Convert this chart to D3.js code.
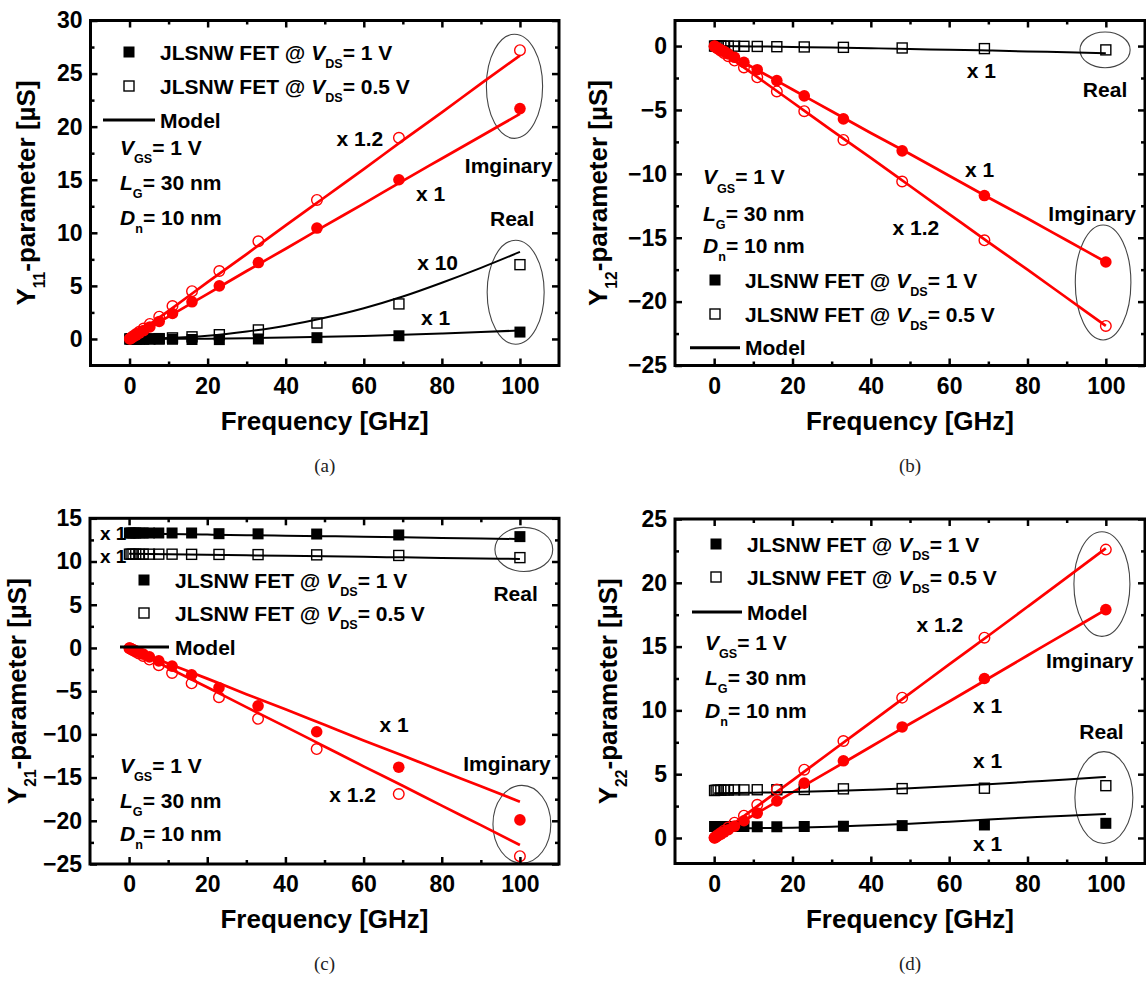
<!DOCTYPE html>
<html>
<head>
<meta charset="utf-8">
<script src="https://cdn.jsdelivr.net/npm/d3@7"></script>
<style>
  body { margin: 0; background: #fff; }
  svg text { font-family: "Liberation Sans", Arial, Helvetica, sans-serif; font-weight: bold; fill: #000; white-space: pre; }
  svg text.cap { font-family: "Liberation Serif", "DejaVu Serif", serif; font-weight: normal; fill: #222; }
</style>
</head>
<body>
<svg id="fig" width="1146" height="983"></svg>
<script>
// measured frequency points (GHz)
const freq = [0.1, 0.5, 1, 1.7, 2.5, 3.6, 5.2, 7.6, 11, 16, 23, 33, 48, 69, 100];
// frequencies the model curves were read at
const modelFreq = [0, 10, 20, 30, 40, 50, 60, 70, 80, 90, 100];
const xMajor = [0, 20, 40, 60, 80, 100];
const xMinor = [10, 30, 50, 70, 90];

// (a) Y11
const y11ImV1 = [0.02, 0.11, 0.22, 0.37, 0.55, 0.79, 1.13, 1.65, 2.4, 3.5, 5.0, 7.2, 10.45, 15.0, 21.7];
const y11ImV05 = [0.03, 0.14, 0.27, 0.46, 0.68, 0.98, 1.42, 2.1, 3.1, 4.5, 6.4, 9.2, 13.1, 18.95, 27.2];
const y11ReV1 = [0, 0, 0, 0, 0, 0, 0, -0.02, -0.03, -0.05, -0.06, 0.0, 0.12, 0.3, 0.65];
const y11ReV05 = [0, 0, 0, 0, 0, 0, 0.01, 0.03, 0.1, 0.2, 0.4, 0.85, 1.5, 3.3, 7.0];
const y11ImV1Model = [0, 2.1, 4.25, 6.4, 8.5, 10.65, 12.75, 14.9, 17.0, 19.1, 21.2];
const y11ImV05Model = [0, 2.65, 5.35, 8.0, 10.7, 13.35, 16.0, 18.7, 21.35, 24.05, 26.7];
const y11ReV1Model = [0, 0.01, 0.03, 0.07, 0.13, 0.2, 0.29, 0.4, 0.52, 0.65, 0.8];
const y11ReV05Model = [0, 0.08, 0.3, 0.7, 1.25, 2.0, 2.9, 4.0, 5.3, 6.7, 8.2];

// (b) Y12
const y12ImV1 = [-0.02, -0.09, -0.17, -0.29, -0.42, -0.61, -0.88, -1.28, -1.85, -2.7, -3.9, -5.7, -8.2, -11.7, -16.9];
const y12ImV05 = [-0.02, -0.11, -0.22, -0.37, -0.55, -0.79, -1.14, -1.67, -2.45, -3.55, -5.1, -7.35, -10.6, -15.2, -21.9];
const y12ReV05 = [0, 0, 0, 0, 0, -0.01, -0.01, -0.02, -0.03, -0.05, -0.07, -0.1, -0.15, -0.2, -0.3];
const y12ImV1Model = [0, -1.7, -3.4, -5.1, -6.8, -8.45, -10.15, -11.85, -13.5, -15.2, -16.9];
const y12ImV05Model = [0, -2.2, -4.4, -6.6, -8.75, -10.95, -13.15, -15.35, -17.5, -19.7, -21.9];
const y12ReModel = [0, -0.03, -0.07, -0.12, -0.17, -0.23, -0.29, -0.35, -0.42, -0.49, -0.56];

// (c) Y21
const y21ReV1 = [13.3, 13.3, 13.3, 13.3, 13.3, 13.3, 13.3, 13.3, 13.3, 13.3, 13.22, 13.2, 13.18, 13.07, 12.88];
const y21ReV05 = [10.85, 10.85, 10.85, 10.85, 10.85, 10.85, 10.85, 10.85, 10.85, 10.83, 10.82, 10.8, 10.77, 10.7, 10.45];
const y21ImV1 = [-0.02, -0.1, -0.2, -0.34, -0.5, -0.72, -1.03, -1.5, -2.1, -3.1, -4.6, -6.7, -9.7, -13.8, -19.9];
const y21ImV05 = [-0.03, -0.13, -0.26, -0.44, -0.65, -0.93, -1.35, -2.0, -2.9, -4.1, -5.7, -8.2, -11.7, -16.9, -24.1];
const y21ReV1Model = [13.25, 13.19, 13.12, 13.05, 12.99, 12.93, 12.86, 12.8, 12.73, 12.67, 12.6];
const y21ReV05Model = [10.9, 10.84, 10.78, 10.72, 10.66, 10.6, 10.54, 10.48, 10.42, 10.36, 10.3];
const y21ImV1Model = [0, -1.8, -3.55, -5.35, -7.1, -8.9, -10.7, -12.45, -14.25, -16.0, -17.8];
const y21ImV05Model = [0, -2.3, -4.55, -6.85, -9.1, -11.4, -13.7, -15.95, -18.25, -20.5, -22.8];

// (d) Y22
const y22ImV1 = [0.02, 0.09, 0.18, 0.3, 0.45, 0.65, 0.93, 1.35, 1.95, 2.9, 4.3, 6.05, 8.7, 12.5, 17.9];
const y22ImV05 = [0.02, 0.11, 0.23, 0.39, 0.57, 0.82, 1.2, 1.75, 2.6, 3.8, 5.35, 7.6, 11.0, 15.7, 22.6];
const y22ReV1 = [0.9, 0.9, 0.9, 0.9, 0.9, 0.9, 0.9, 0.9, 0.88, 0.88, 0.9, 0.92, 0.97, 1.02, 1.15];
const y22ReV05 = [3.72, 3.74, 3.75, 3.75, 3.76, 3.76, 3.77, 3.77, 3.78, 3.78, 3.8, 3.85, 3.87, 3.9, 4.1];
const y22ImV1Model = [0, 1.78, 3.57, 5.36, 7.15, 8.95, 10.7, 12.5, 14.3, 16.1, 17.9];
const y22ImV05Model = [0, 2.26, 4.52, 6.8, 9.06, 11.33, 13.6, 15.85, 18.12, 20.4, 22.7];
const y22ReV1Model = [0.75, 0.77, 0.8, 0.88, 1.0, 1.12, 1.28, 1.45, 1.6, 1.75, 1.88];
const y22ReV05Model = [3.5, 3.55, 3.6, 3.68, 3.78, 3.9, 4.05, 4.22, 4.4, 4.58, 4.78];

const RED = "#ff0000";
const range = (a, b, s) => d3.range(a, b + s / 2, s);

const legendRows = [
  [["JLSNW FET @ ", "n"], ["V", "i"], ["DS", "s"], ["= 1 V", "n"]],
  [["JLSNW FET @ ", "n"], ["V", "i"], ["DS", "s"], ["= 0.5 V", "n"]]
];
const infoRows = [
  [["V", "i"], ["GS", "s"], ["= 1 V", "n"]],
  [["L", "i"], ["G", "s"], ["= 30 nm", "n"]],
  [["D", "i"], ["n", "s"], ["= 10 nm", "n"]]
];

const panels = [
  {
    cap: "(a)", sub: "11", box: [90.5, 20.5, 559, 365.5], ydom: [-2.5, 30], titleX: 17,
    yMajor: range(0, 30, 5), yMinor: range(2.5, 27.5, 5),
    models: [
      { y: y11ImV05Model, c: RED, w: 2.7 }, { y: y11ImV1Model, c: RED, w: 2.7 },
      { y: y11ReV05Model, c: "#000", w: 2 }, { y: y11ReV1Model, c: "#000", w: 2 }
    ],
    series: [
      { y: y11ReV05, m: "os" }, { y: y11ReV1, m: "fs" },
      { y: y11ImV05, m: "oc" }, { y: y11ImV1, m: "fc" }
    ],
    ellipses: [[98.6, 23.8, 7.2, 4.9], [98.9, 4.4, 7.3, 4.9]],
    notes: [["x 1.2", 59, 18.9], ["Imginary", 97.1, 16.3], ["x 1", 77.1, 13.7],
            ["x 10", 78.9, 7.2], ["Real", 98, 11.4], ["x 1", 78.4, 2.05]],
    legend: { sqX: 129, rows: [52, 86], textX: 160, line: [103, 155], lineY: 120 },
    info: { x: 120, rows: [147, 182, 217] }
  },
  {
    cap: "(b)", sub: "12", box: [675, 20.5, 1145, 365.5], ydom: [-25, 2], titleX: 589,
    yMajor: range(-25, 0, 5), yMinor: range(-22.5, -2.5, 5),
    models: [
      { y: y12ImV05Model, c: RED, w: 2.7 }, { y: y12ImV1Model, c: RED, w: 2.7 },
      { y: y12ReModel, c: "#000", w: 2 }
    ],
    series: [
      { y: y12ReV05, m: "os" }, { y: y12ImV05, m: "oc" }, { y: y12ImV1, m: "fc" }
    ],
    ellipses: [[99.8, -0.3, 6.4, 1.4], [99.3, -18.5, 7.1, 4.5]],
    notes: [["x 1", 68.2, -1.87], ["Real", 99.8, -3.38], ["x 1", 67.8, -9.64],
            ["x 1.2", 51.5, -14.2], ["Imginary", 96.5, -13.1]],
    legend: { sqX: 715, rows: [280, 314], textX: 745, line: [690, 740], lineY: 347.7 },
    info: { x: 703, rows: [176.7, 213, 245] }
  },
  {
    cap: "(c)", sub: "21", box: [90, 518.3, 559, 864], ydom: [-25, 15], titleX: 8,
    yMajor: range(-25, 15, 5), yMinor: range(-22.5, 12.5, 5),
    models: [
      { y: y21ImV05Model, c: RED, w: 2.7 }, { y: y21ImV1Model, c: RED, w: 2.7 },
      { y: y21ReV1Model, c: "#000", w: 2 }, { y: y21ReV05Model, c: "#000", w: 2 }
    ],
    series: [
      { y: y21ReV1, m: "fs" }, { y: y21ReV05, m: "os" },
      { y: y21ImV05, m: "oc" }, { y: y21ImV1, m: "fc" }
    ],
    ellipses: [[101, 11.4, 7.4, 2.55], [100.5, -20.4, 7.4, 4.5]],
    notes: [["x 1", 67.8, -8.9], ["x 1.2", 57.2, -16.9], ["Imginary", 96.7, -13.4],
            ["Real", 98.9, 6.3], ["x 1", -7.45, 13.3, "start", 19], ["x 1", -7.45, 10.6, "start", 19]],
    legend: { sqX: 144, rows: [580, 613], textX: 175, line: [120, 169], lineY: 647 },
    info: { x: 120, rows: [765, 800, 833] }
  },
  {
    cap: "(d)", sub: "22", box: [675, 519, 1145, 863.5], ydom: [-2, 25], titleX: 599,
    yMajor: range(0, 25, 5), yMinor: range(2.5, 22.5, 5),
    models: [
      { y: y22ImV05Model, c: RED, w: 2.7 }, { y: y22ImV1Model, c: RED, w: 2.7 },
      { y: y22ReV05Model, c: "#000", w: 2 }, { y: y22ReV1Model, c: "#000", w: 2 }
    ],
    series: [
      { y: y22ReV05, m: "os" }, { y: y22ReV1, m: "fs" },
      { y: y22ImV05, m: "oc" }, { y: y22ImV1, m: "fc" }
    ],
    ellipses: [[99, 19.9, 7.15, 4.1], [99.5, 3.17, 7.4, 3.6]],
    notes: [["x 1.2", 57.6, 16.7], ["Imginary", 95.9, 13.95], ["x 1", 69.8, 10.4],
            ["Real", 98.9, 8.33], ["x 1", 69.8, 6.1], ["x 1", 69.8, -0.42]],
    legend: { sqX: 716, rows: [544, 577], textX: 747, line: [692, 742], lineY: 612 },
    info: { x: 705, rows: [642, 677, 710] }
  }
];

const svg = d3.select("#fig");

// text with italic and subscript pieces
function rich(sel, x, y, parts, size, anchor) {
  const t = sel.append("text").attr("x", x).attr("y", y)
    .attr("font-size", size).attr("text-anchor", anchor || "start");
  let shift = 0;
  parts.forEach(([s, k]) => {
    const ts = t.append("tspan").text(s);
    if (k === "i") ts.attr("font-style", "italic");
    const want = k === "s" ? size * 0.4 : 0;
    if (want !== shift) { ts.attr("dy", want - shift); shift = want; }
    if (k === "s") ts.attr("font-size", size * 0.6);
  });
  return t;
}

function marker(g, m, px, py) {
  if (m === "fs") g.append("rect").attr("x", px - 5.5).attr("y", py - 5.5).attr("width", 11).attr("height", 11).attr("fill", "#000");
  if (m === "os") g.append("rect").attr("x", px - 5).attr("y", py - 5).attr("width", 10).attr("height", 10)
    .attr("fill", "none").attr("stroke", "#000").attr("stroke-width", 1.4);
  if (m === "fc") g.append("circle").attr("cx", px).attr("cy", py).attr("r", 5.8).attr("fill", RED);
  if (m === "oc") g.append("circle").attr("cx", px).attr("cy", py).attr("r", 5.3)
    .attr("fill", "none").attr("stroke", RED).attr("stroke-width", 1.4);
}

panels.forEach(p => {
  const [L, T, R, B] = p.box;
  const g = svg.append("g");
  const x = d3.scaleLinear().domain([-10, 110]).range([L, R]);
  const y = d3.scaleLinear().domain(p.ydom).range([B, T]);

  // ellipses round the high-frequency points
  g.selectAll("ellipse.hl").data(p.ellipses).join("ellipse")
    .attr("cx", d => x(d[0])).attr("cy", d => y(d[1]))
    .attr("rx", d => x(d[2]) - x(0)).attr("ry", d => y(0) - y(d[3]))
    .attr("fill", "none").attr("stroke", "#444").attr("stroke-width", 1.1);

  // model curves
  const line = d3.line().x((d, i) => x(modelFreq[i])).y(d => y(d)).curve(d3.curveMonotoneX);
  p.models.forEach(md => {
    g.append("path").attr("d", line(md.y)).attr("fill", "none")
      .attr("stroke", md.c).attr("stroke-width", md.w);
  });

  // measured points
  p.series.forEach(s => {
    s.y.forEach((v, i) => marker(g, s.m, x(freq[i]), y(v)));
  });

  // ticks, all pointing inward
  const tickStyle = sel => {
    sel.select(".domain").remove();
    sel.selectAll(".tick line").attr("stroke-width", 2.5);
    sel.selectAll("text").attr("font-size", 23).attr("font-family", null);
  };
  g.append("g").attr("transform", `translate(0,${B})`)
    .call(d3.axisBottom(x).tickValues(xMajor).tickSize(-7).tickSizeOuter(0).tickPadding(12).tickFormat(d3.format("d")))
    .call(tickStyle);
  g.append("g").attr("transform", `translate(0,${B})`)
    .call(d3.axisBottom(x).tickValues(xMinor).tickSize(-4).tickSizeOuter(0).tickFormat("")).call(tickStyle);
  g.append("g").attr("transform", `translate(0,${T})`)
    .call(d3.axisTop(x).tickValues(xMajor).tickSize(-7).tickSizeOuter(0).tickFormat("")).call(tickStyle);
  g.append("g").attr("transform", `translate(0,${T})`)
    .call(d3.axisTop(x).tickValues(xMinor).tickSize(-4).tickSizeOuter(0).tickFormat("")).call(tickStyle);
  g.append("g").attr("transform", `translate(${L},0)`)
    .call(d3.axisLeft(y).tickValues(p.yMajor).tickSize(-7).tickSizeOuter(0).tickPadding(8).tickFormat(d3.format("d")))
    .call(tickStyle);
  g.append("g").attr("transform", `translate(${L},0)`)
    .call(d3.axisLeft(y).tickValues(p.yMinor).tickSize(-4).tickSizeOuter(0).tickFormat("")).call(tickStyle);
  g.append("g").attr("transform", `translate(${R},0)`)
    .call(d3.axisRight(y).tickValues(p.yMajor).tickSize(-7).tickSizeOuter(0).tickFormat("")).call(tickStyle);
  g.append("g").attr("transform", `translate(${R},0)`)
    .call(d3.axisRight(y).tickValues(p.yMinor).tickSize(-4).tickSizeOuter(0).tickFormat("")).call(tickStyle);

  g.selectAll(".tick text").attr("fill", "#000").attr("font-weight", "bold");

  // frame
  g.append("rect").attr("x", L).attr("y", T).attr("width", R - L).attr("height", B - T)
    .attr("fill", "none").attr("stroke", "#000").attr("stroke-width", 3);

  // axis titles
  g.append("text").attr("x", (L + R) / 2).attr("y", B + 64).attr("font-size", 26)
    .attr("text-anchor", "middle").text("Frequency [GHz]");
  rich(g, 0, 0, [["Y", "n"], [p.sub, "s"], ["-parameter [\u00b5S]", "n"]], 26, "middle")
    .attr("transform", `translate(${p.titleX + 18},${(T + B) / 2}) rotate(-90)`);

  // annotations
  p.notes.forEach(([s, nx, ny, anchor, size]) => {
    const fs = size || 21;
    g.append("text").attr("x", x(nx)).attr("y", y(ny) + fs * 0.36).attr("font-size", fs)
      .attr("text-anchor", anchor || "middle").text(s);
  });

  // legend
  const lg = p.legend;
  marker(g, "fs", lg.sqX, lg.rows[0]);
  marker(g, "os", lg.sqX, lg.rows[1]);
  legendRows.forEach((parts, i) => rich(g, lg.textX, lg.rows[i] + 7.5, parts, 21));
  g.append("line").attr("x1", lg.line[0]).attr("x2", lg.line[1]).attr("y1", lg.lineY).attr("y2", lg.lineY)
    .attr("stroke", "#000").attr("stroke-width", 3);
  g.append("text").attr("x", lg.textX).attr("y", lg.lineY + 7.5).attr("font-size", 21).text("Model");

  infoRows.forEach((parts, i) => rich(g, p.info.x, p.info.rows[i] + 7.5, parts, 21));

  // caption
  g.append("text").attr("class", "cap").attr("x", (L + R) / 2).attr("y", B + 106)
    .attr("font-size", 19).attr("text-anchor", "middle").text(p.cap);
});
</script>
</body>
</html>
